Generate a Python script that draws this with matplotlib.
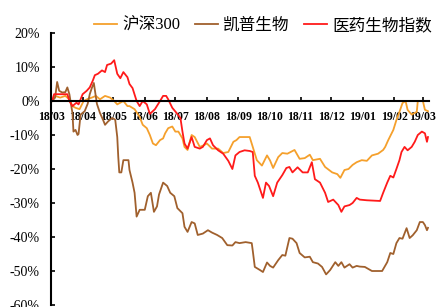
import numpy as np
import pandas as pd
import matplotlib
matplotlib.use('Agg')
import matplotlib.pyplot as plt

plt.rcParams['font.family'] = ['Liberation Serif', 'Noto Sans CJK SC']

start = pd.Timestamp('2018-03-01')

# 沪深300 (days since 2018-03-01, cumulative return %)
hs_day = [1, 4, 9, 14, 18, 21, 24, 28, 32, 36, 40, 44, 48, 53, 58, 62, 65, 68, 71, 75,
          77, 82, 87, 90, 94, 97, 100, 103, 107, 110, 112, 115, 119, 122, 125, 129, 131, 134, 138, 141,
          146, 150, 153, 158, 164, 169, 174, 179, 182, 185, 195, 198, 202, 207, 212, 215, 218, 223, 227, 232,
          239, 244, 249, 254, 257, 264, 269, 276, 281, 284, 288, 292, 296, 300, 305, 310, 315, 321, 326, 328,
          331, 336, 339, 342, 345, 348, 350, 354, 357, 359, 360, 365, 367, 370]
hs_val = [0, 1.5, 1, 1.5, 0.5, -1.5, -2, -2.4, 0, 0.6, 1, 1.5, 0.5, 1.5, 1, 0, -1, -0.5, 0, -1.5,
          -1.5, -2.4, -4.7, -7, -8, -10, -12.5, -13, -11.5, -11, -9.5, -8, -7.5, -9, -9, -11, -13.5, -14.4, -10, -10.6,
          -13.5, -13, -12.5, -14, -14, -15.3, -15, -12, -11.5, -10.6, -10.6, -13.5, -17.4, -19, -16, -17.5, -19.7, -16.5, -15.3, -15.5,
          -14.4, -17, -16.8, -15.8, -17.4, -17, -19.4, -21, -21.5, -22.6, -20.3, -20, -18.8, -18, -17.4, -17.6, -16, -15.5, -14.4, -13.5,
          -11.5, -8.5, -5.6, -3.2, -0.6, 0, -2.6, -4, -3.5, -3.2, 0, 0, -2.6, -3]

# 凯普生物
kp_day = [1, 4, 6, 8, 11, 14, 16, 18, 21, 22, 24, 26, 27, 29, 33, 36, 38, 40, 42, 45,
          48, 51, 53, 56, 60, 63, 65, 66, 67, 69, 71, 76, 77, 80, 82, 84, 87, 92, 95, 98,
          101, 104, 106, 110, 114, 117, 121, 124, 129, 131, 134, 138, 141, 144, 149, 154, 158, 163, 168, 173,
          178, 181, 185, 191, 197, 198, 200, 205, 208, 212, 215, 218, 223, 227, 230, 234, 237, 241, 244, 249,
          254, 257, 262, 266, 270, 274, 279, 282, 285, 288, 293, 296, 300, 303, 308, 315, 325, 330, 333, 336,
          339, 342, 345, 349, 352, 355, 359, 362, 365, 367, 369, 370]
kp_val = [0, 1, 5.6, 3, 2.5, 2.6, 4, 2, -3.5, -9, -8.5, -10, -9.7, -4, -3, -0.8, 2, 3.8, 5.3, -0.8,
          -3.5, -5.5, -7, -6, -5, -5.5, -10.6, -16.5, -21, -21, -17.4, -17.4, -20.3, -24, -27, -34, -32, -32, -28, -27,
          -32.6, -31, -27.5, -24, -25, -27, -28, -31.5, -33, -37, -38.5, -35.6, -36, -39.4, -39, -38, -38.7, -39.4, -40.3, -42.4,
          -42.5, -41.5, -41.8, -41.5, -41.8, -44, -48.8, -49.7, -50.3, -47.5, -48.5, -49, -46.8, -45.3, -45.5, -40.3, -40.5, -41.8, -44.7, -46,
          -45.8, -47.4, -47.8, -48.8, -51, -49.7, -47.4, -48.5, -47.4, -49, -48, -49, -48.5, -48.7, -48.8, -50, -50, -47.4, -44.7, -45,
          -41.8, -40.3, -40.5, -37.4, -40.3, -39.5, -38, -35.6, -35.6, -36.5, -38, -37.3]

# 医药生物指数
yy_day = [1, 3, 9, 16, 18, 21, 25, 27, 31, 35, 38, 41, 43, 46, 50, 53, 55, 59, 62, 65,
          68, 71, 75, 77, 80, 84, 87, 90, 94, 97, 102, 107, 110, 113, 115, 119, 124, 127, 129, 131,
          134, 138, 141, 146, 149, 153, 156, 159, 164, 169, 174, 178, 181, 185, 190, 195, 198, 200, 203, 208,
          211, 214, 218, 222, 227, 231, 234, 237, 242, 247, 252, 256, 259, 264, 269, 272, 277, 282, 285, 288,
          293, 296, 300, 303, 310, 323, 326, 330, 333, 336, 339, 342, 344, 347, 350, 354, 357, 360, 364, 367,
          369, 370]
yy_val = [0, 2, 2, 2, 0, -1.5, -0.5, -1, 2, 3, 4, 6, 7.6, 8, 9, 8.5, 10.6, 11, 12, 8,
          6.7, 8.5, 7, 5, 3.8, 0, -1.5, 0, -1, -3.8, -2.4, 0, 1.5, 1.5, 0.5, -2, -3.8, -5, -9, -12.5,
          -14, -10.6, -13.5, -14, -13.5, -11.5, -11, -13, -14.5, -15.5, -17.6, -20, -16, -15, -14.5, -14.7, -15, -22, -24, -28.5,
          -24, -25, -28, -24, -21.8, -19.7, -19.4, -21, -19.5, -21, -21, -18, -23, -24, -27, -29.7, -29, -30.6, -32.6, -31,
          -30.6, -30, -28.5, -29, -29.2, -29.4, -27, -24, -22, -22.5, -20, -17.4, -15, -13.5, -14.5, -13.5, -12, -10, -9, -9.5,
          -12, -10.6]

names = ['沪深300', '凯普生物', '医药生物指数']
colors = ['#F5A02C', '#A0602D', '#FF1A1A']
series = [(hs_day, hs_val), (kp_day, kp_val), (yy_day, yy_val)]
months = pd.date_range('2018-03-01', '2019-03-01', freq='MS')

fig = plt.figure(figsize=(4.4, 3.07), dpi=100)
ax = fig.add_axes([0.116, 0.0065, 0.859, 0.886])

for (d, v), c, n in zip(series, colors, names):
    dates = start + pd.to_timedelta(d, unit='D')
    ax.plot(dates, v, color=c, lw=1.3, label=n)

ax.spines['top'].set_visible(False)
ax.spines['right'].set_visible(False)
ax.spines['bottom'].set_position(('data', 0))
ax.spines['bottom'].set_linewidth(1.5)
ax.spines['left'].set_linewidth(1.5)
ax.tick_params(axis='x', direction='in', length=3, width=1.2, pad=7, labelsize=8.5)
ax.tick_params(axis='y', direction='in', length=3, width=1.2, pad=8, labelsize=10)

ax.set_ylim(-60, 20)
ax.set_xlim(start, start + pd.Timedelta(days=371))
ax.set_yticks(np.arange(-60, 21, 10))
ax.set_yticklabels([f'{t}%' for t in range(-60, 21, 10)])
ax.set_xticks(months)
ax.set_xticklabels([m.strftime('%y/%m') for m in months], fontweight='bold')

leg = fig.legend(loc='center left', bbox_to_anchor=(0.214, 0.915), ncol=3, frameon=False,
                 borderaxespad=0, borderpad=0, handlelength=1.4, handletextpad=0.3,
                 columnspacing=0.85, prop={'size': 12})

fig.savefig('out.png', dpi=100)
